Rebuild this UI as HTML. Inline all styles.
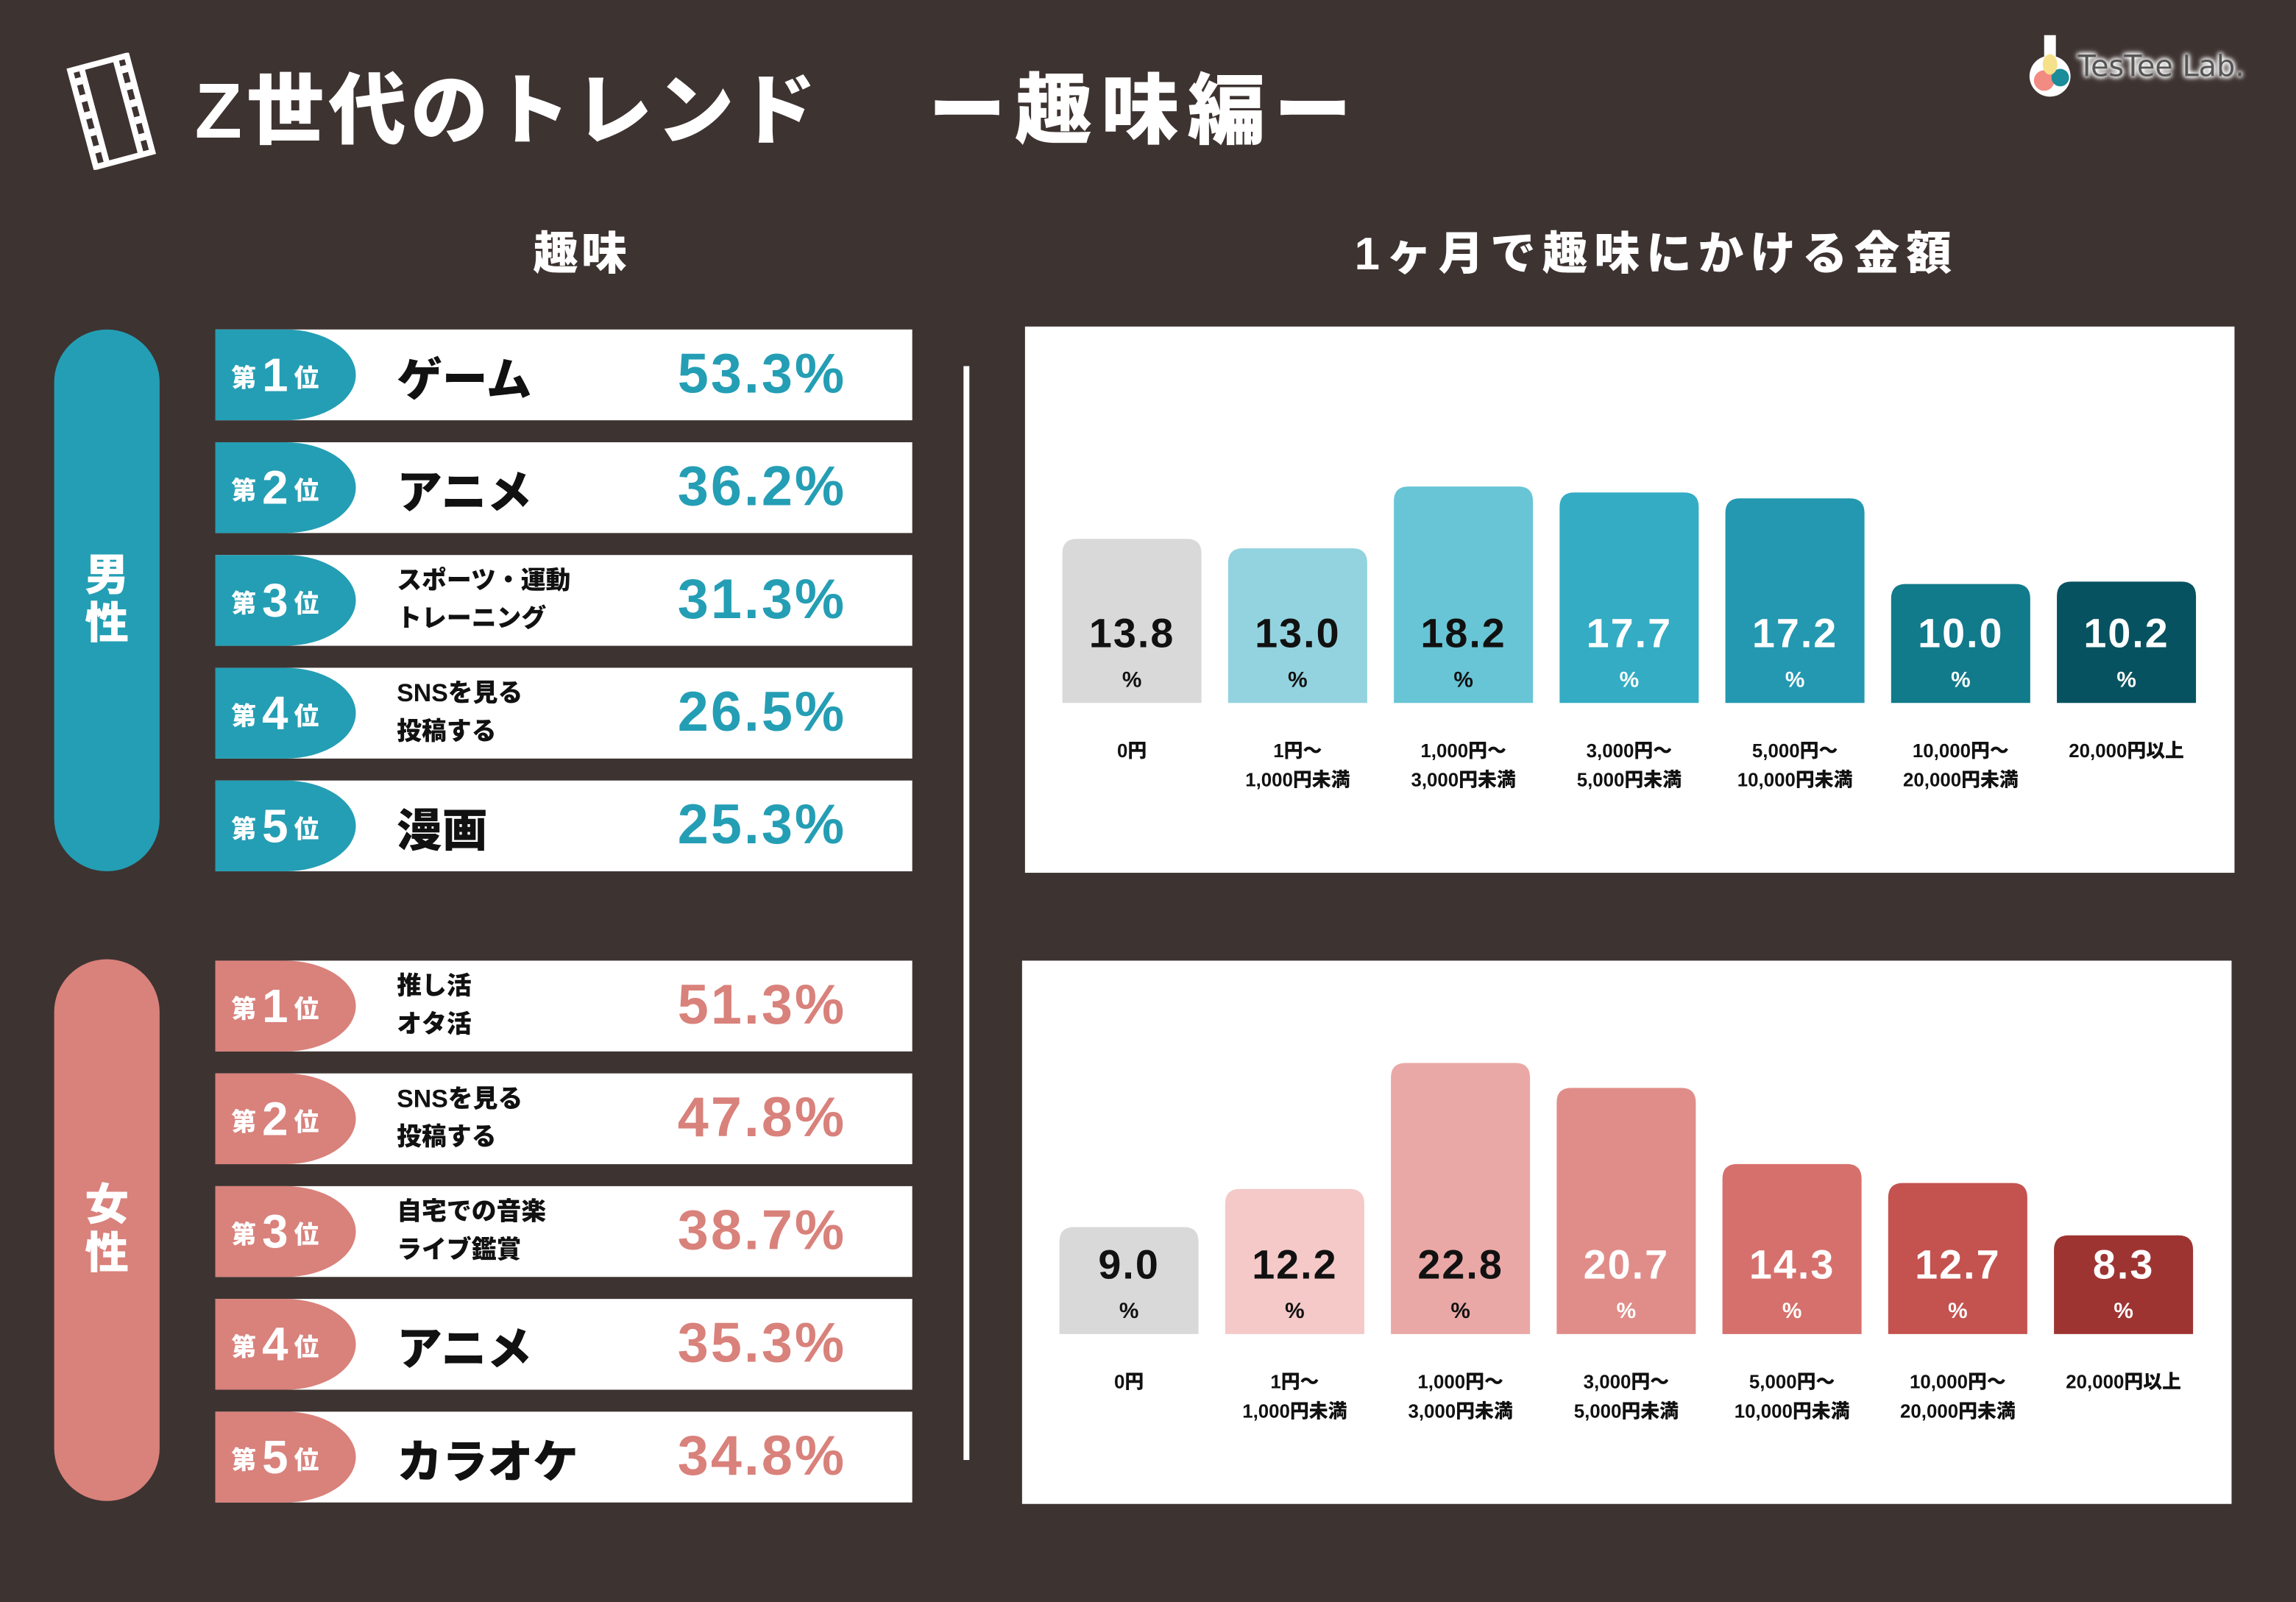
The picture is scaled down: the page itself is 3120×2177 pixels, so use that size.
<!DOCTYPE html>
<html><head><meta charset="utf-8">
<style>
html,body{margin:0;padding:0;background:#3d3331;}
body{width:3120px;height:2177px;overflow:hidden;}
#root{position:absolute;left:0;top:0;width:1568px;height:1094px;transform:scale(1.9898,1.99);transform-origin:0 0;
font-family:"Liberation Sans","Noto Sans CJK JP",sans-serif;font-weight:900;}
.abs{position:absolute;}
.title{color:#fff;font-size:53px;top:34px;white-space:nowrap;letter-spacing:3px;}
.head{color:#fff;font-size:31px;top:148px;white-space:nowrap;}
.pill{position:absolute;left:37px;width:72px;height:370px;border-radius:36px;color:#fff;font-size:30px;display:flex;align-items:center;justify-content:center;line-height:33px;text-align:center;}
.row{position:absolute;left:147px;width:476px;height:62px;background:#fff;}
.tab{position:absolute;left:0;top:0;width:96px;height:62px;border-radius:0 48px 48px 0/0 31px 31px 0;color:#fff;display:flex;align-items:center;padding-left:11px;box-sizing:border-box;}
.tab .s{font-size:17px}.tab .n{font-size:32px;margin:0 4px;font-family:"Liberation Sans",sans-serif;font-weight:700;}
.lab{position:absolute;left:124px;top:0;height:62px;display:flex;align-items:center;color:#111;}
.lab.big{font-size:31px}.lab.sm{font-size:17px;line-height:26px}
.pct{position:absolute;right:45px;top:0;height:62px;display:flex;align-items:center;font-size:38px;font-family:"Liberation Sans",sans-serif;font-weight:700;letter-spacing:1.5px;}
.box{position:absolute;background:#fff;}
</style></head><body>
<div id="root">
<svg class="abs" style="left:36px;top:36px" width="80" height="80" viewBox="0 0 80 80">
<g transform="rotate(-15 40 40)" fill="none" stroke="#fff" stroke-width="4"><rect x="20" y="6" width="40" height="68" fill="#3d3331"/><line x1="28" y1="6" x2="28" y2="74"/><line x1="52" y1="6" x2="52" y2="74"/>
<g fill="#fff" stroke="none"><rect x="21" y="12" width="5" height="5"/><rect x="21" y="24" width="5" height="5"/><rect x="21" y="36" width="5" height="5"/><rect x="21" y="48" width="5" height="5"/><rect x="21" y="60" width="5" height="5"/><rect x="54" y="12" width="5" height="5"/><rect x="54" y="24" width="5" height="5"/><rect x="54" y="36" width="5" height="5"/><rect x="54" y="48" width="5" height="5"/><rect x="54" y="60" width="5" height="5"/></g></g></svg>
<div class="abs title" style="left:133px">Z世代のトレンド</div>
<div class="abs title" style="left:634px;letter-spacing:6px">ー趣味編ー</div>
<div class="abs" style="left:1384px;top:22px;width:170px;height:46px;display:flex;align-items:center;white-space:nowrap">
<svg width="34" height="46" viewBox="0 0 34 46"><rect x="12" y="2" width="8" height="18" fill="#fff"/><circle cx="16" cy="30" r="14" fill="#fff"/><circle cx="12" cy="33" r="7" fill="#f28b82"/><circle cx="23" cy="31" r="6" fill="#1a8c9a"/><ellipse cx="16" cy="22" rx="5" ry="7" fill="#f7e08a"/></svg>
<span style="color:#555;font-size:20px;font-weight:400;margin-left:1px;white-space:nowrap;text-shadow:0 0 3px #fff,0 0 3px #fff,0 0 4px #fff,0 0 5px #fff;font-family:'DejaVu Sans',sans-serif">TesTee Lab.</span></div>
<div class="abs head" style="left:364px;letter-spacing:2px">趣味</div>
<div class="abs head" style="left:925px;letter-spacing:4.5px">1ヶ月で趣味にかける金額</div>

<div class="pill" style="top:225px;background:#249eb4">男<br>性</div>
<div class="pill" style="top:655px;background:#d9817b">女<br>性</div>
<div class="abs" style="left:658px;top:250px;width:4px;height:747px;background:#fff"></div>

<div id="rows"></div>

<div class="box" style="left:700px;top:223px;width:826px;height:373px"><svg id="c1" width="826" height="373"></svg></div>
<div class="box" style="left:698px;top:656px;width:826px;height:371px"><svg id="c2" width="826" height="371"></svg></div>
</div>
<script>
const maleHobbies=[["ゲーム"],["アニメ"],["スポーツ・運動","トレーニング"],["SNSを見る","投稿する"],["漫画"]];
const maleShares=[53.3,36.2,31.3,26.5,25.3];
const femaleHobbies=[["推し活","オタ活"],["SNSを見る","投稿する"],["自宅での音楽","ライブ鑑賞"],["アニメ"],["カラオケ"]];
const femaleShares=[51.3,47.8,38.7,35.3,34.8];
const categories=[["0円"],["1円～","1,000円未満"],["1,000円～","3,000円未満"],["3,000円～","5,000円未満"],["5,000円～","10,000円未満"],["10,000円～","20,000円未満"],["20,000円以上"]];
const maleSpend=[13.8,13.0,18.2,17.7,17.2,10.0,10.2];
const femaleSpend=[9.0,12.2,22.8,20.7,14.3,12.7,8.3];
const maleColors=["#d9d9d9","#92d3df","#68c5d5","#33acc4","#2398b0","#117a8b","#075260"];
const femaleColors=["#d9d9d9","#f4c9c8","#e9a8a6","#e08d89","#d6706c","#c4524f","#9e3432"];

const rows=document.getElementById('rows');
function buildRows(items,vals,top,color,prefix){
  items.forEach((it,i)=>{
    const r=document.createElement('div');r.className='row';r.style.top=(top+i*77)+'px';
    
    
    r.innerHTML='<div class="tab" style="background:'+color+'"><span class="s">第</span><span class="n">'+(i+1)+'</span><span class="s">位</span></div>'+
      '<div class="lab '+(it.length>1?'sm':'big')+'">'+it.join('<br>')+'</div>'+
      '<div class="pct" style="color:'+color+'">'+vals[i].toFixed(1)+'%</div>';
    rows.appendChild(r);
  });
}
buildRows(maleHobbies,maleShares,225,'#249eb4','male');
buildRows(femaleHobbies,femaleShares,656,'#d9817b','female');

const NS='http://www.w3.org/2000/svg';
function mk(svg,tag,attrs,txt){const e=document.createElementNS(NS,tag);for(const k in attrs)e.setAttribute(k,attrs[k]);if(txt!=null)e.textContent=txt;svg.appendChild(e);return e;}
function chart(id,vals,colors,base,valY,labY,darkN,prefix){
  const svg=document.getElementById(id);
  const x=i=>73+i*113.2; const y=v=>base-v*8.12;
  vals.forEach((v,i)=>{
    const top=y(v),w=95,l=x(i)-w/2,r=10;
    const p=mk(svg,'path',{d:`M${l},${base}V${top+r}Q${l},${top} ${l+r},${top}H${l+w-r}Q${l+w},${top} ${l+w},${top+r}V${base}Z`,fill:colors[i]});
    
    
    const c=i<darkN?'#111':'#fff';
    const t=mk(svg,'text',{x:x(i),y:valY,'text-anchor':'middle','font-size':28,'font-weight':700,fill:c,'font-family':'Liberation Sans,sans-serif','letter-spacing':1},v.toFixed(1));
    
    
    mk(svg,'text',{x:x(i),y:valY+27,'text-anchor':'middle','font-size':15,'font-weight':700,fill:c,'font-family':'Liberation Sans,sans-serif'},'%');
    categories[i].forEach((s,j)=>{
      const ct=mk(svg,'text',{x:x(i),y:labY+j*20,'text-anchor':'middle','font-size':13,'font-weight':900,fill:'#111','font-family':'Liberation Sans,Noto Sans CJK JP,sans-serif'},s);
      
      
    });
  });
}
chart('c1',maleSpend,maleColors,257,219,294,3,'male');
chart('c2',femaleSpend,femaleColors,255,217,292,3,'female');
</script>
</body></html>
